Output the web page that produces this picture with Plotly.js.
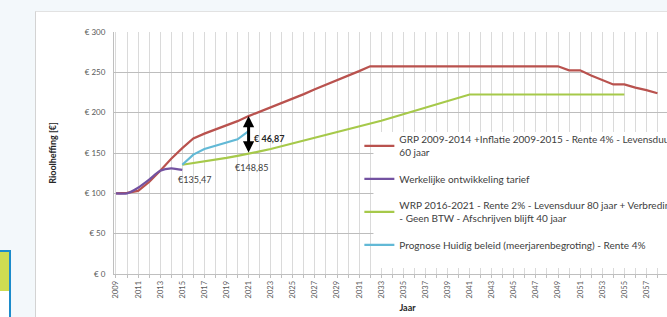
<!DOCTYPE html>
<html>
<head>
<meta charset="utf-8">
<script src="https://cdn.plot.ly/plotly-3.0.1.min.js"></script>
<style>
  html, body { margin:0; padding:0; width:667px; height:317px; overflow:hidden; background:#F3F8FB; }
  #frame { position:absolute; left:35px; top:11px; width:680px; height:306px; background:#fff;
           border-left:1px solid #D3D3D3; border-top:1px solid #E2E2E2; }
  #chart { position:absolute; left:0; top:0; width:680px; height:306px; }
  #sidebox { position:absolute; left:-2px; top:250px; width:11px; height:80px; background:#fff;
             border-top:2px solid #1C8BCB; border-right:2px solid #1C8BCB; }
  #sidefill { position:absolute; left:0; top:0; width:11px; height:39px; background:#CEDC52; }
</style>
</head>
<body>
<div id="sidebox"><div id="sidefill"></div></div>
<div id="frame"><div id="chart"></div></div>
<script>
// Categories (years)
const years = [2009,2010,2011,2012,2013,2014,2015,2016,2017,2018,2019,2020,2021,2022,2023,2024,2025,2026,2027,2028,
               2029,2030,2031,2032,2033,2034,2035,2036,2037,2038,2039,2040,2041,2042,2043,2044,2045,2046,2047,2048,
               2049,2050,2051,2052,2053,2054,2055,2056,2057,2058];

// Year labels shown on the axis
const yearLabels = [2009,2011,2013,2015,2017,2019,2021,2023,2025,2027,2029,2031,2033,2035,2037,2039,2041,2043,2045,2047,
                    2049,2051,2053,2055,2057];

// GRP 2009-2014 + Inflatie (2009-2058)
const grp = [100,100.5,103,114,128,143,156,168,174,179,184,189.5,195.72,201,206.5,212,217.5,223,229,234.5,
             240,245.5,251.5,257.5,257.5,257.5,257.5,257.5,257.5,257.5,257.5,257.5,257.5,257.5,257.5,257.5,257.5,257.5,257.5,257.5,
             257.5,252.5,252.5,246,240,235,235,231,228,224];

// Werkelijke ontwikkeling tarief (2009-2015)
const werkYears = [2009,2010,2011,2012,2013,2014,2015];
const werk = [100,100,107,117,128,131,129];

// WRP 2016-2021 (2015-2055)
const wrpYears = [2015,2016,2017,2018,2019,2020,2021,2022,2023,2024,2025,2026,2027,2028,2029,2030,2031,2032,2033,2034,
                  2035,2036,2037,2038,2039,2040,2041,2042,2043,2044,2045,2046,2047,2048,2049,2050,2051,2052,2053,2054,2055];
const wrp = [135.47,137.5,139.5,141.5,144,146.5,148.85,152,155,158.5,162,165.5,169,172,175.5,179,182.5,186,190,194,
             198,202,206,210,214,218,222.5,222.5,222.5,222.5,222.5,222.5,222.5,222.5,222.5,222.5,222.5,222.5,222.5,222.5,222.5];

// Prognose Huidig beleid (2015-2021)
const progYears = [2015,2016,2017,2018,2019,2020,2021];
const prog = [135.47,148,155,159,163,167,177];

const yTicks = [0,50,100,150,200,250,300];
const yTickText = ['€ 0','€ 50','€ 100','€ 150','€ 200','€ 250','€ 300'];

const names = [
  'GRP 2009-2014 +Inflatie 2009-2015 - Rente 4% - Levensduur<br>60 jaar',
  'Werkelijke ontwikkeling tarief',
  'WRP 2016-2021 - Rente 2% - Levensduur 80 jaar + Verbreding<br>- Geen BTW - Afschrijven blijft 40 jaar',
  'Prognose Huidig beleid (meerjarenbegroting) - Rente 4%'
];

const traces = [
  {x: years, y: grp, name: names[0], legendgroup:'a', mode:'lines', line:{color:'#B9524E', width:2.2}},
  {x: werkYears, y: werk, name: names[1], legendgroup:'b', mode:'lines', line:{color:'#7352A1', width:2.2, shape:'spline', smoothing:0.6}},
  {x: wrpYears, y: wrp, name: names[2], legendgroup:'c', mode:'lines', line:{color:'#A6C94A', width:2.2}},
  {x: progYears, y: prog, name: names[3], legendgroup:'d', mode:'lines', line:{color:'#62B9D6', width:2.2}}
];

const FONT = 'Lato, "Open Sans", sans-serif';
const labelFont = {family:FONT, size:9, color:'#404040'};

const layout = {
  width: 680, height: 306,
  margin: {l:78, r:15, t:20, b:44},
  paper_bgcolor:'#ffffff', plot_bgcolor:'#ffffff',
  font: {family:FONT, color:'#404040'},
  showlegend: true,
  legend: {
    x: 0.418, y: 0.61, xanchor:'left', yanchor:'top',
    bgcolor:'rgba(0,0,0,0)', borderwidth:0,
    font: {family:FONT, size:10, color:'#404040'},
    traceorder:'grouped', tracegroupgap: 9, itemwidth: 30
  },
  xaxis: {
    type:'linear', range:[2008.82, 2061.94],
    tickmode:'array', tickvals: yearLabels, ticktext: yearLabels.map(String), tickangle: -90,
    tickfont: {family:FONT, size:7.5, color:'#595959'},
    showgrid:true, gridcolor:'#DADADA', gridwidth:1,
    minor: {tickmode:'linear', tick0:2009, dtick:1, showgrid:true, gridcolor:'#DADADA', ticks:'outside', ticklen:3, tickcolor:'#BFBFBF'},
    ticks:'outside', ticklen:3, tickcolor:'#BFBFBF',
    showline:true, linecolor:'#BFBFBF', zeroline:false,
    title: {text:'<b>Jaar</b>', font:{family:FONT, size:9, color:'#262626'}, standoff:7}
  },
  yaxis: {
    range:[0,300], tickmode:'array', tickvals: yTicks, ticktext: yTickText,
    tickfont: {family:FONT, size:8, color:'#595959'},
    showgrid:true, gridcolor:'#BDBDBD', gridwidth:1,
    showline:true, linecolor:'#BFBFBF', zeroline:false,
    ticks:'outside', ticklen:6, tickcolor:'rgba(0,0,0,0)',
    title: {text:'<b>Rioolheffing [€]</b>', font:{family:FONT, size:9, color:'#262626'}, standoff:26}
  },
  shapes: [
    {type:'rect', layer:'between', xref:'x', yref:'y', x0:2032.3, x1:2070, y0:7.5, y1:176,
     fillcolor:'#ffffff', line:{width:0}}
  ],
  annotations: [
    {x:2021, y:195.72, ax:2021, ay:148.85, xref:'x', yref:'y', axref:'x', ayref:'y',
     text:'', showarrow:true, arrowhead:2, startarrowhead:2, arrowside:'end+start',
     arrowsize:0.75, startarrowsize:0.75, arrowwidth:3, arrowcolor:'#000000', standoff:0, startstandoff:0},
    {x:2021.35, y:168.5, xref:'x', yref:'y', text:'<b>€ 46,87</b>', showarrow:false, xanchor:'left',
     font:{family:FONT, size:9, color:'#262626'}},
    {x:2021.3, y:131.5, xref:'x', yref:'y', text:'€148,85', showarrow:false, xanchor:'center', font:labelFont},
    {x:2016.1, y:117.5, xref:'x', yref:'y', text:'€135,47', showarrow:false, xanchor:'center', font:labelFont}
  ]
};

Plotly.newPlot('chart', traces, layout, {displayModeBar:false, staticPlot:true});
</script>
</body>
</html>
